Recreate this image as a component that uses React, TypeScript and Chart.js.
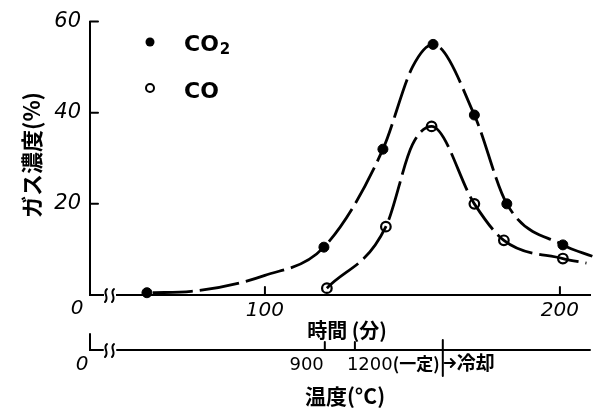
import React, { useEffect, useRef } from "react";
import { Chart, registerables } from "chart.js";

Chart.register(...registerables);

// ---- data ----
const timeTicks = [100, 200];
const concTicks = [20, 40, 60];

const co2Time = [60, 120, 140, 157, 171, 182, 201];
const co2Val = [0.5, 10.5, 32, 55, 39.5, 20, 11];
const coTime = [121, 141, 156.5, 171, 181, 201];
const coVal = [1.5, 15, 37, 20, 12, 8];

// hand-drawn fitted curves
const co2CurveTime = [62, 75, 100, 120, 140, 150, 157, 171, 182, 201, 211];
const co2CurveVal = [0.5, 0.8, 4.3, 10.5, 32, 50, 55, 39.5, 20, 11, 8.5];
const coCurveTime = [121, 141, 150, 156.5, 171, 181, 201, 209];
const coCurveVal = [1.5, 15, 33, 37, 20, 12, 8, 7];

// temperature axis (aligned to time)
const tempTickTime = [120.3, 130.5];
const tempTickLabels = ["900", "1200(一定)"];
const coolingTime = 160.3;
const coolingLabel = "冷却";

const seriesNames = ["CO", "CO"];

const LATIN = "'DejaVu Sans', sans-serif";
const CJK = "'Noto Sans CJK JP', sans-serif";

const toXY = (xs: number[], ys: number[]) => xs.map((x, i) => ({ x, y: ys[i] }));

export default function App() {
  const ref = useRef<HTMLCanvasElement>(null);

  useEffect(() => {
    if (!ref.current) return;

    const wiggle = (ctx: CanvasRenderingContext2D, x: number, y: number) => {
      ctx.beginPath();
      ctx.moveTo(x + 1, y - 7);
      ctx.bezierCurveTo(x - 4, y - 3, x + 4, y + 1, x - 1, y + 6);
      ctx.stroke();
    };

    const overlay = {
      id: "overlay",
      afterDraw(chart: any) {
        const ctx: CanvasRenderingContext2D = chart.ctx;
        const xs = chart.scales.x;
        const ys = chart.scales.y;
        const area = chart.chartArea;
        ctx.save();
        ctx.strokeStyle = "#000";
        ctx.fillStyle = "#000";
        ctx.lineWidth = 2;
        ctx.lineCap = "round";

        // inward ticks
        concTicks.forEach((v) => {
          const py = ys.getPixelForValue(v);
          ctx.beginPath();
          ctx.moveTo(area.left, py);
          ctx.lineTo(area.left + 8, py);
          ctx.stroke();
        });
        timeTicks.forEach((v) => {
          const px = xs.getPixelForValue(v);
          ctx.beginPath();
          ctx.moveTo(px, area.bottom);
          ctx.lineTo(px, area.bottom - 8);
          ctx.stroke();
        });

        // axis break on time axis
        ctx.fillStyle = "#fff";
        ctx.fillRect(area.left + 14, area.bottom - 2, 12, 4);
        ctx.fillStyle = "#000";
        wiggle(ctx, area.left + 16, area.bottom + 1);
        wiggle(ctx, area.left + 23, area.bottom + 1);

        // zeros
        ctx.font = `italic 20px ${LATIN}`;
        ctx.textAlign = "center";
        ctx.textBaseline = "middle";
        ctx.fillText("0", area.left - 13, area.bottom + 14);

        // time axis title
        ctx.font = `bold 20px ${CJK}`;
        ctx.fillText("時間 (分)", 347, 330);

        // temperature axis
        const ty = 350;
        ctx.beginPath();
        ctx.moveTo(area.left, ty - 16);
        ctx.lineTo(area.left, ty);
        ctx.lineTo(area.left + 13, ty);
        ctx.moveTo(area.left + 27, ty);
        ctx.lineTo(area.right, ty);
        ctx.stroke();
        wiggle(ctx, area.left + 16, ty + 1);
        wiggle(ctx, area.left + 23, ty + 1);
        ctx.font = `italic 20px ${LATIN}`;
        ctx.fillText("0", area.left - 8, ty + 15);

        tempTickTime.forEach((t, i) => {
          const px = xs.getPixelForValue(t);
          ctx.beginPath();
          ctx.moveTo(px, ty);
          ctx.lineTo(px, ty - 8);
          ctx.stroke();
          ctx.font = `18px ${LATIN}`;
          ctx.textBaseline = "middle";
          if (i === 0) {
            ctx.textAlign = "right";
            ctx.fillText(tempTickLabels[i], px - 1, ty + 15);
          } else {
            ctx.textAlign = "left";
            const num = tempTickLabels[i].split("(")[0];
            const rest = tempTickLabels[i].slice(num.length);
            ctx.fillText(num, px - 8, ty + 15);
            const w = ctx.measureText(num).width;
            ctx.font = `bold 17px ${CJK}`;
            ctx.fillText(rest, px - 8 + w, ty + 14);
          }
        });
        const cx = xs.getPixelForValue(coolingTime);
        ctx.beginPath();
        ctx.moveTo(cx, ty - 10);
        ctx.lineTo(cx, ty + 26);
        ctx.moveTo(cx + 2, ty + 13);
        ctx.lineTo(cx + 12, ty + 13);
        ctx.moveTo(cx + 8, ty + 9);
        ctx.lineTo(cx + 12, ty + 13);
        ctx.lineTo(cx + 8, ty + 17);
        ctx.stroke();
        ctx.font = `bold 19px ${CJK}`;
        ctx.textAlign = "left";
        ctx.fillText(coolingLabel, cx + 14, ty + 13);

        ctx.textAlign = "center";
        ctx.font = `bold 21px ${CJK}`;
        ctx.fillText("温度(°C)", 345, 396);

        // y title
        ctx.save();
        ctx.translate(32, 155);
        ctx.rotate(-Math.PI / 2);
        ctx.font = `bold 22px ${CJK}`;
        ctx.fillText("ガス濃度(%)", 0, 0);
        ctx.restore();

        // legend
        ctx.beginPath();
        ctx.arc(150, 42, 4.5, 0, Math.PI * 2);
        ctx.fill();
        ctx.beginPath();
        ctx.arc(150, 88, 4, 0, Math.PI * 2);
        ctx.stroke();
        ctx.textAlign = "left";
        ctx.font = `bold 22px ${LATIN}`;
        ctx.fillText(seriesNames[0], 184, 45);
        const w0 = ctx.measureText(seriesNames[0]).width;
        ctx.font = `bold 15px ${LATIN}`;
        ctx.fillText("2", 184 + w0 + 1, 50);
        ctx.font = `bold 22px ${LATIN}`;
        ctx.fillText(seriesNames[1], 184, 92);

        ctx.restore();
      },
    };

    const chart = new Chart(ref.current, {
      type: "scatter",
      data: {
        datasets: [
          {
            label: "CO2 curve",
            data: toXY(co2CurveTime, co2CurveVal),
            showLine: true,
            borderColor: "#000",
            borderWidth: 2.8,
            borderDash: [40, 7],
            pointRadius: 0,
            cubicInterpolationMode: "monotone",
            clip: false as any,
          },
          {
            label: "CO curve",
            data: toXY(coCurveTime, coCurveVal),
            showLine: true,
            borderColor: "#000",
            borderWidth: 2.8,
            borderDash: [40, 7],
            pointRadius: 0,
            cubicInterpolationMode: "monotone",
            clip: false as any,
          },
          {
            label: "CO2",
            data: toXY(co2Time, co2Val),
            pointRadius: 5,
            pointBackgroundColor: "#000",
            pointBorderColor: "#000",
            pointBorderWidth: 1,
            clip: false as any,
          },
          {
            label: "CO",
            data: toXY(coTime, coVal),
            pointRadius: 4.8,
            pointBackgroundColor: "#fff",
            pointBorderColor: "#000",
            pointBorderWidth: 2.2,
            clip: false as any,
          },
        ],
      },
      options: {
        animation: false,
        responsive: false,
        layout: { padding: { left: 0, top: 15, right: 14, bottom: 0 }, autoPadding: false } as any,
        plugins: { legend: { display: false }, tooltip: { enabled: false } },
        scales: {
          x: {
            type: "linear",
            min: 40.7,
            max: 210.2,
            afterFit: (s: any) => {
              s.height = 117;
            },
            afterBuildTicks: (s: any) => {
              s.ticks = timeTicks.map((v) => ({ value: v }));
            },
            grid: { display: false, drawTicks: false },
            border: { display: true, color: "#000", width: 2 },
            ticks: {
              color: "#000",
              padding: 4,
              font: { family: "DejaVu Sans", size: 20, style: "italic" },
            },
          },
          y: {
            min: 0,
            max: 60,
            afterFit: (s: any) => {
              s.width = 90;
            },
            afterBuildTicks: (s: any) => {
              s.ticks = concTicks.map((v) => ({ value: v }));
            },
            grid: { display: false, drawTicks: false },
            border: { display: true, color: "#000", width: 2 },
            ticks: {
              color: "#000",
              padding: 9,
              font: { family: "DejaVu Sans", size: 21, style: "italic" },
            },
          },
        },
      },
      plugins: [overlay],
    });
    return () => chart.destroy();
  }, []);

  return (
    <div style={{ position: "absolute", left: 0, top: 0, width: 604, height: 412, background: "#fff" }}>
      <canvas ref={ref} width={604} height={412} />
    </div>
  );
}
